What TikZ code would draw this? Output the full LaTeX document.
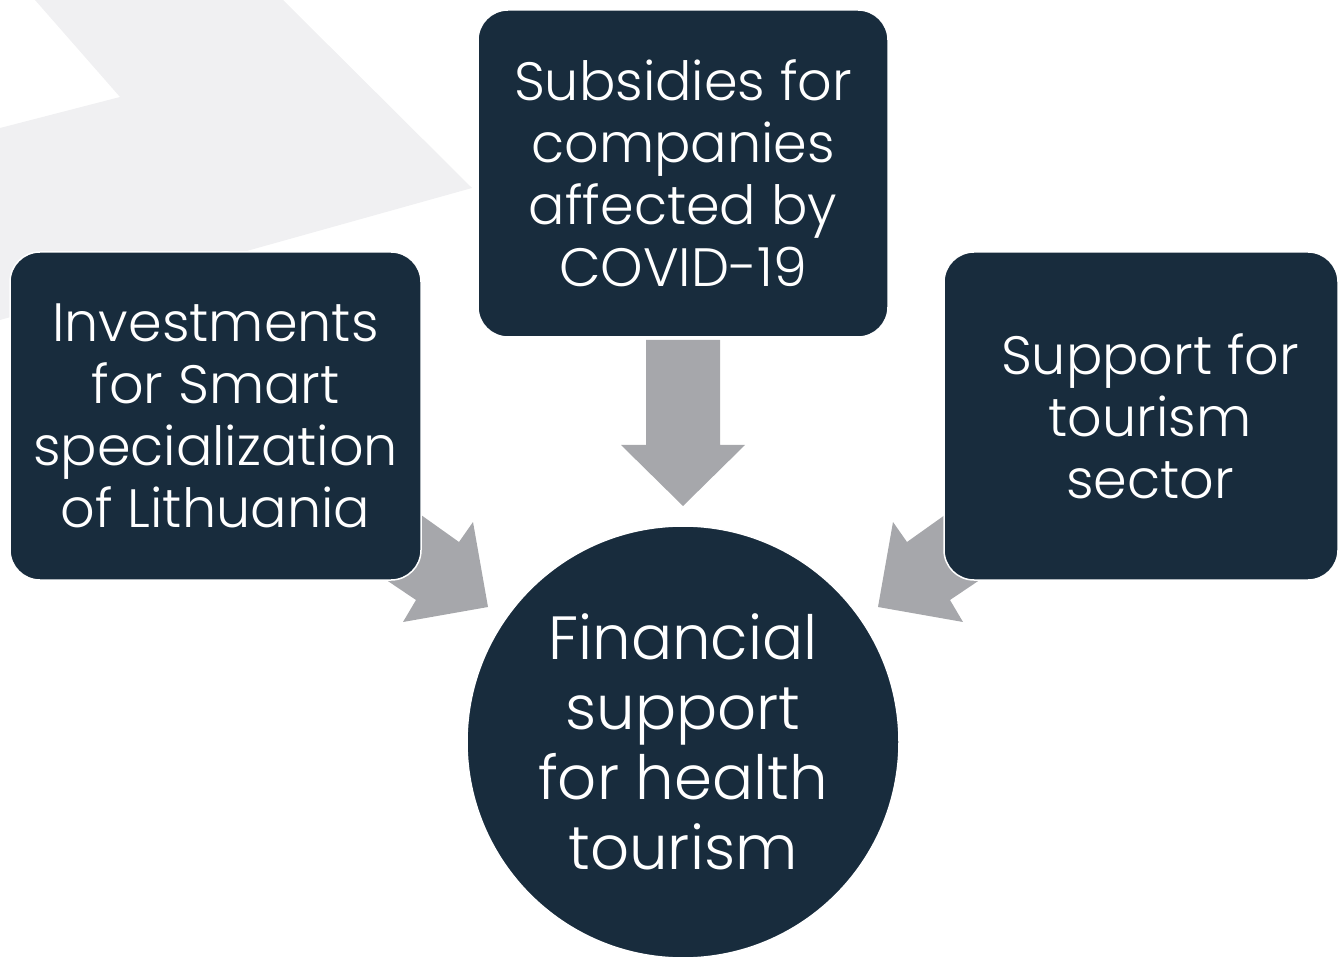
\documentclass[tikz,border=0pt]{standalone}
\usepackage{fontspec}
\setmainfont{Poppins Light}
\definecolor{navy}{RGB}{24,44,61}
\definecolor{arrowgray}{RGB}{166,167,171}
\definecolor{chevron}{RGB}{240,240,242}
\begin{document}
\begin{tikzpicture}[x=1pt,y=-1pt,
  box/.style={draw=white, line width=1.5pt, fill=navy, rounded corners=30pt,
    text=white, align=center, inner sep=0pt,
    font=\fontsize{54}{62}\selectfont},
  boxtext/.style={text=white, align=center, inner sep=0pt,
    font=\fontsize{54}{62}\selectfont},
  hub/.style={circle, draw=white, line width=1.5pt, fill=navy, text=white,
    align=center, inner sep=0pt, minimum size=432pt,
    font=\fontsize{61}{70}\selectfont},
  blockarrow/.style={fill=arrowgray, draw=none}]
\useasboundingbox (0,0) rectangle (1339,957);
% background chevron
\fill[chevron] (35,0) -- (283,0) -- (472,188) -- (0,320) -- (0,128) -- (120,97) -- cycle;
% block arrows
\fill[blockarrow] (646,340) -- (720,340) -- (720,445) -- (745,445) -- (683,506) -- (621,445) -- (646,445) -- cycle;
\fill[blockarrow] (400,500) -- (459,542) -- (473,522) -- (488,607) -- (403,622) -- (416,600) -- (370,569) -- cycle;
\fill[blockarrow] (966,500) -- (907,542) -- (893,522) -- (878,607) -- (963,622) -- (950,600) -- (996,569) -- cycle;
% boxes
\node[box, minimum width=410pt, minimum height=327pt] (top) at (683,173.5)
  {Subsidies for\\companies\\affected by\\COVID-19};
\node[box, minimum width=411pt, minimum height=328pt] (left) at (215.5,416)
  {Investments\\for Smart\\specialization\\of Lithuania};
\node[box, minimum width=394pt, minimum height=328pt] (right) at (1141,416) {};
\node[boxtext] (rightlabel) at (1150,416) {Support for\\tourism\\sector};
\node[hub] (hub) at (683,742) {Financial\\support\\for health\\tourism};
\end{tikzpicture}
\end{document}
